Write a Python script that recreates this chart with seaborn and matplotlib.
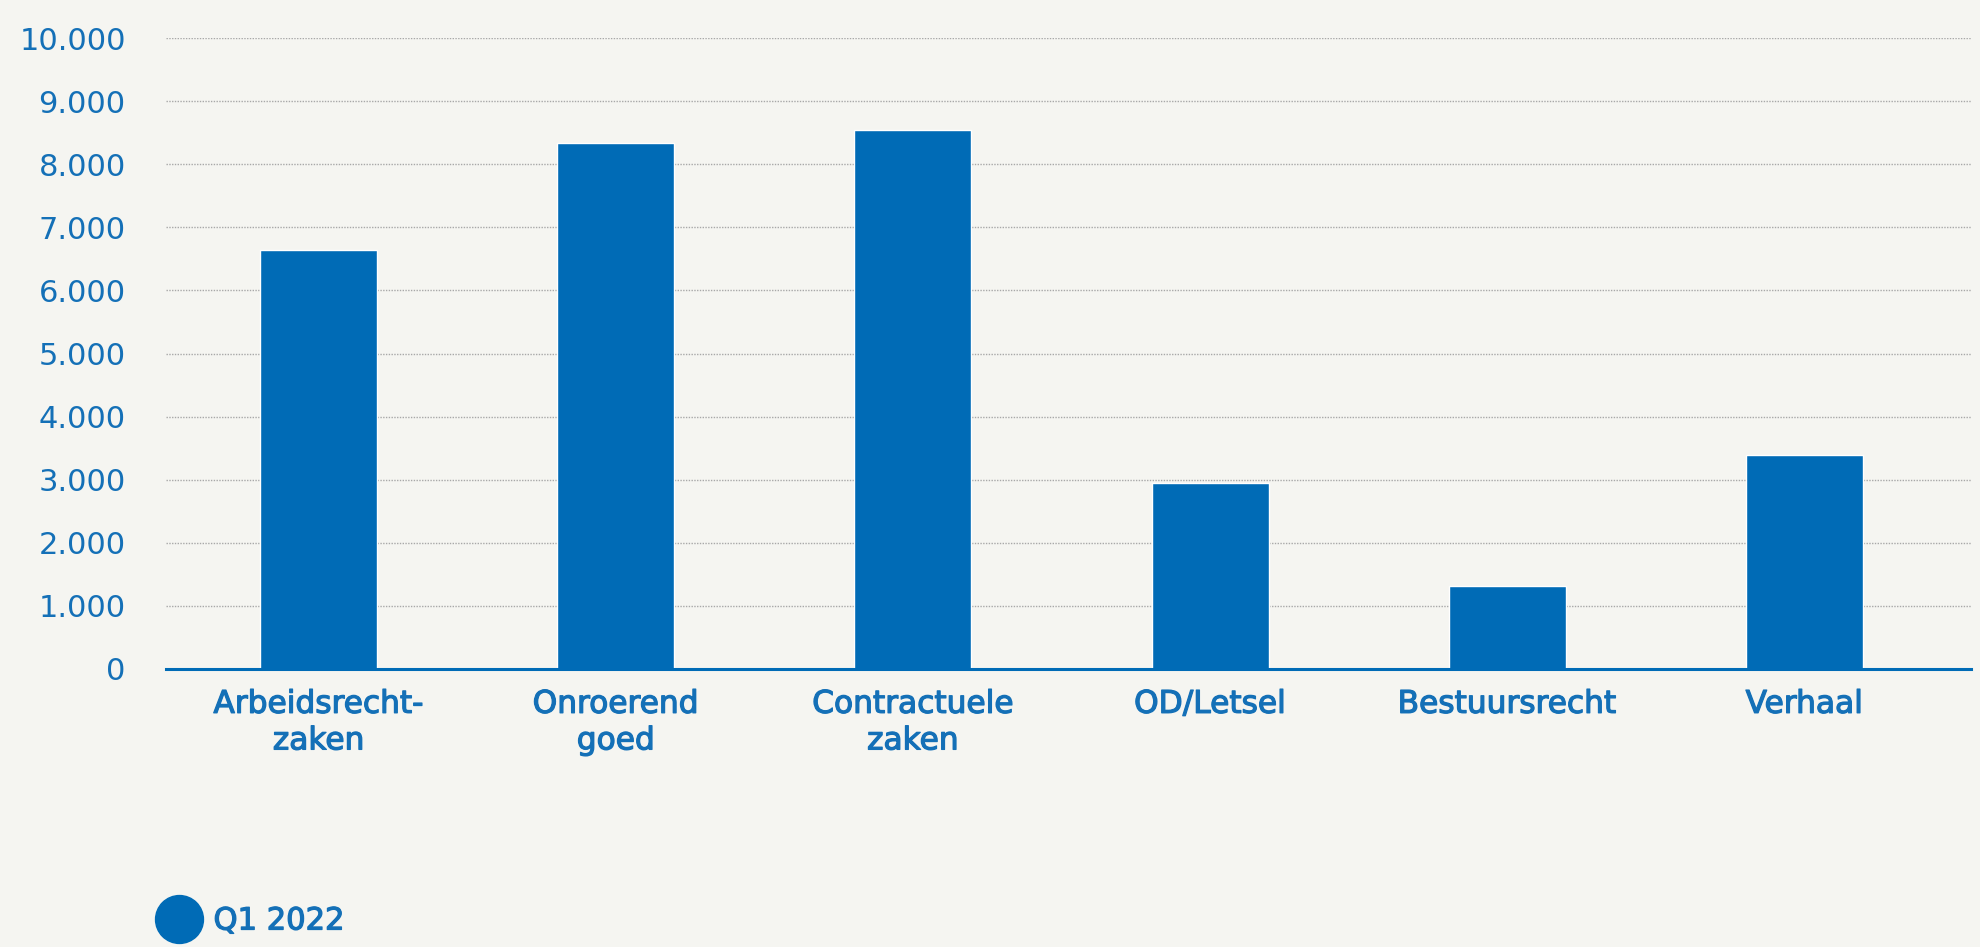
import matplotlib
matplotlib.use("Agg")
import matplotlib.pyplot as plt
import matplotlib.patheffects as pe
from matplotlib.lines import Line2D
from matplotlib.ticker import FuncFormatter
import seaborn as sns
import pandas as pd

categories = ["Arbeidsrecht-\nzaken", "Onroerend\ngoed", "Contractuele\nzaken",
              "OD/Letsel", "Bestuursrecht", "Verhaal"]
values_q1_2022 = [6640, 8340, 8540, 2940, 1320, 3390]
series_name = "Q1 2022"
y_ticks = [0, 1000, 2000, 3000, 4000, 5000, 6000, 7000, 8000, 9000, 10000]

BLUE = "#006BB6"
TEXT = "#1470B7"
BG = "#F5F5F1"

sns.set_theme(style="white")
plt.rcParams["font.family"] = ["DejaVu Sans"]

df = pd.DataFrame({"categorie": categories, "aantal": values_q1_2022})

fig = plt.figure(figsize=(19.8, 9.47), dpi=100, facecolor=BG)
ax = fig.add_axes([166 / 1980, 1 - 669 / 947, (1971 - 166) / 1980, (669 - 38) / 947])
ax.set_facecolor(BG)

sns.barplot(data=df, x="categorie", y="aantal", color=BLUE, width=0.394,
            saturation=1, ax=ax, zorder=3)

ax.set_xlim(-0.514, 5.561)
ax.set_ylim(0, 10000)
ax.set_yticks(y_ticks)
ax.yaxis.set_major_formatter(FuncFormatter(lambda v, p: f"{int(v):,}".replace(",", ".")))
ax.grid(axis="y", linestyle=(0, (1, 1)), color="#A8A8A8", linewidth=1.0, zorder=0)
ax.grid(axis="x", visible=False)

for s in ["top", "right", "left"]:
    ax.spines[s].set_visible(False)
ax.spines["bottom"].set_color(BLUE)
ax.spines["bottom"].set_linewidth(2.2)
ax.spines["bottom"].set_zorder(4)

ax.set_xlabel("")
ax.set_ylabel("")
ax.tick_params(axis="y", length=0, pad=29, labelsize=22, labelcolor=TEXT)
ax.tick_params(axis="x", length=0, pad=15, labelsize=22.5, labelcolor=TEXT)
medium = [pe.withStroke(linewidth=0.9, foreground=TEXT)]
for lab in ax.get_xticklabels():
    lab.set_linespacing(1.33)
    lab.set_path_effects(medium)

handle = Line2D([], [], marker="o", linestyle="none", markersize=34.5,
                markerfacecolor=BLUE, markeredgecolor=BLUE)
leg = fig.legend([handle], [series_name], loc="center left",
                 bbox_to_anchor=(157 / 1980, 1 - 921 / 947), frameon=False,
                 borderpad=0, borderaxespad=0, handlelength=1.45, handletextpad=0.4,
                 prop={"size": 22}, labelcolor=TEXT)
for t in leg.get_texts():
    t.set_path_effects(medium)

fig.savefig("out.png", dpi=100, facecolor=BG)
